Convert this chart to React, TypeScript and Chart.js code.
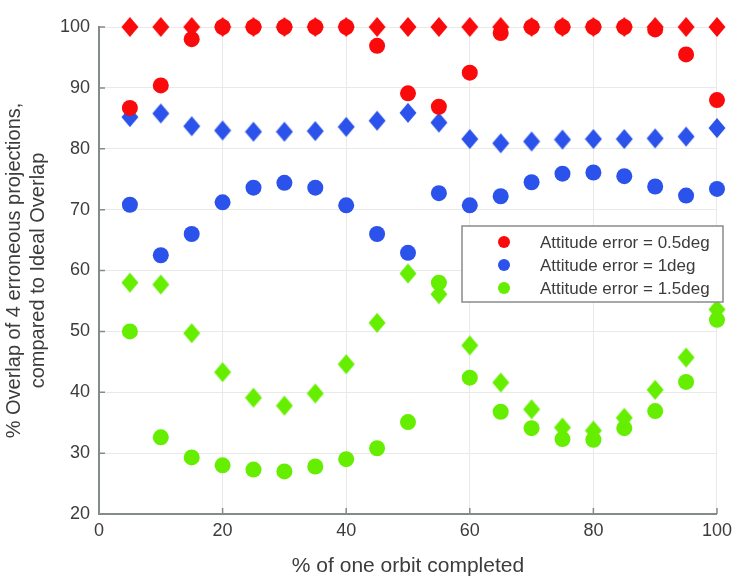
import React, { useEffect, useRef } from "react";
import { Chart, registerables } from "chart.js";

Chart.register(...registerables);

const orbitPct = [5, 10, 15, 20, 25, 30, 35, 40, 45, 50, 55, 60, 65, 70, 75, 80, 85, 90, 95, 100];
const xTicks = [0, 20, 40, 60, 80, 100];
const yTicks = [20, 30, 40, 50, 60, 70, 80, 90, 100];

// Attitude error = 0.5deg
const err05Circle = [86.7, 90.4, 98.0, 100, 100, 100, 100, 100, 96.9, 89.1, 86.9, 92.5, 99.0, 100, 100, 100, 100, 99.6, 95.5, 88.0];
const err05Diamond = [100, 100, 100, 100, 100, 100, 100, 100, 100, 100, 100, 100, 100, 100, 100, 100, 100, 100, 100, 100];
// Attitude error = 1deg
const err1Circle = [70.8, 62.5, 66.0, 71.2, 73.6, 74.4, 73.6, 70.7, 66.0, 62.9, 72.7, 70.7, 72.2, 74.5, 75.9, 76.1, 75.5, 73.8, 72.3, 73.4];
const err1Diamond = [85.2, 85.8, 83.7, 83.0, 82.8, 82.8, 82.9, 83.6, 84.6, 85.9, 84.3, 81.6, 80.9, 81.2, 81.5, 81.6, 81.6, 81.7, 82.0, 83.4];
// Attitude error = 1.5deg
const err15Circle = [50.0, 32.6, 29.3, 28.0, 27.3, 27.0, 27.8, 29.0, 30.8, 35.1, 58.0, 42.4, 36.8, 34.1, 32.3, 32.2, 34.1, 36.9, 41.7, 51.9];
const err15Diamond = [58.0, 57.7, 49.7, 43.3, 39.1, 37.8, 39.8, 44.6, 51.4, 59.5, 56.1, 47.7, 41.6, 37.2, 34.2, 33.7, 35.8, 40.4, 45.7, 53.6];

const legendLabels = ["Attitude error = 0.5deg", "Attitude error = 1deg", "Attitude error = 1.5deg"];

const RED = "#fa0a0a";
const BLUE = "#2b52ea";
const GREEN = "#66ee00";
const TEXT = "#3c3c3c";
const AXIS = "#858a8a";
const GRID = "#e9e9e9";
const FONT = "'Liberation Sans', Arial, sans-serif";

function makeDiamond(color: string): HTMLCanvasElement {
  const c = document.createElement("canvas");
  c.width = 18;
  c.height = 22;
  const ctx = c.getContext("2d")!;
  ctx.fillStyle = color;
  ctx.beginPath();
  ctx.moveTo(9, 1);
  ctx.lineTo(17.5, 11);
  ctx.lineTo(9, 21);
  ctx.lineTo(0.5, 11);
  ctx.closePath();
  ctx.fill();
  return c;
}

const toPoints = (ys: number[]) => orbitPct.map((x, i) => ({ x, y: ys[i] }));

export default function App() {
  const ref = useRef<HTMLCanvasElement | null>(null);

  useEffect(() => {
    if (!ref.current) return;

    const inwardTicks = {
      id: "inwardTicks",
      afterDraw(chart: any) {
        const ctx = chart.ctx;
        const xs = chart.scales.x;
        const ys = chart.scales.y;
        const a = chart.chartArea;
        ctx.save();
        ctx.strokeStyle = AXIS;
        ctx.lineWidth = 1.5;
        ctx.beginPath();
        xTicks.forEach((t) => {
          const px = xs.getPixelForValue(t);
          ctx.moveTo(px, a.bottom);
          ctx.lineTo(px, a.bottom - 6);
        });
        yTicks.forEach((t) => {
          const py = ys.getPixelForValue(t);
          ctx.moveTo(a.left, py);
          ctx.lineTo(a.left + 6, py);
        });
        ctx.stroke();
        ctx.restore();
      },
    };

    const insideLegend = {
      id: "insideLegend",
      afterDraw(chart: any) {
        const ctx = chart.ctx;
        const colors = [RED, BLUE, GREEN];
        const bx = 462, by = 226, bw = 261, bh = 76;
        ctx.save();
        ctx.fillStyle = "#ffffff";
        ctx.fillRect(bx, by, bw, bh);
        ctx.strokeStyle = "#8a8a8a";
        ctx.lineWidth = 1.5;
        ctx.strokeRect(bx, by, bw, bh);
        ctx.font = `17px ${FONT}`;
        ctx.textBaseline = "middle";
        ctx.textAlign = "left";
        legendLabels.forEach((lbl, i) => {
          const cy = by + 16 + i * 23;
          ctx.fillStyle = colors[i];
          ctx.beginPath();
          ctx.arc(504, cy, 6, 0, Math.PI * 2);
          ctx.fill();
          ctx.fillStyle = TEXT;
          ctx.fillText(lbl, 540, cy + 1);
        });
        ctx.restore();
      },
    };

    const ds = (data: number[], color: string, style: any, radius: number) => ({
      data: toPoints(data),
      backgroundColor: color,
      borderColor: color,
      borderWidth: 0,
      pointStyle: style,
      pointRadius: radius,
      pointHoverRadius: radius,
      showLine: false,
      clip: false,
    });

    const chart = new Chart(ref.current, {
      type: "scatter",
      data: {
        datasets: [
          ds(err05Diamond, RED, makeDiamond(RED), 10),
          ds(err05Circle, RED, "circle", 8),
          ds(err1Diamond, BLUE, makeDiamond(BLUE), 10),
          ds(err1Circle, BLUE, "circle", 8),
          ds(err15Diamond, GREEN, makeDiamond(GREEN), 10),
          ds(err15Circle, GREEN, "circle", 8),
        ],
      },
      options: {
        responsive: false,
        animation: false,
        layout: { padding: { top: 27, right: 20, left: 0, bottom: 0 } },
        plugins: {
          legend: { display: false },
          tooltip: { enabled: false },
        },
        scales: {
          x: {
            type: "linear",
            min: 0,
            max: 100,
            afterBuildTicks: (scale: any) => {
              scale.ticks = xTicks.map((v) => ({ value: v }));
            },
            afterFit: (scale: any) => {
              scale.height = 67;
            },
            ticks: {
              padding: 6,
              color: TEXT,
              font: { family: FONT, size: 18 },
              maxRotation: 0,
            },
            grid: { color: GRID, lineWidth: 1, drawTicks: false },
            border: { display: true, color: AXIS, width: 2 },
            title: {
              display: true,
              text: "% of one orbit completed",
              color: TEXT,
              font: { family: FONT, size: 21, lineHeight: 1.2 },
              padding: { top: 0, bottom: 2 },
            },
          },
          y: {
            type: "linear",
            min: 20,
            max: 100,
            afterBuildTicks: (scale: any) => {
              scale.ticks = yTicks.map((v) => ({ value: v }));
            },
            afterFit: (scale: any) => {
              scale.width = 99;
            },
            ticks: {
              padding: 9,
              color: TEXT,
              font: { family: FONT, size: 18 },
            },
            grid: { color: GRID, lineWidth: 1, drawTicks: false },
            border: { display: true, color: AXIS, width: 2 },
            title: {
              display: true,
              text: ["% Overlap of 4 erroneous projections,", "compared to Ideal Overlap"],
              color: TEXT,
              font: { family: FONT, size: 20, lineHeight: 1.2 },
              padding: { top: 2, bottom: 0 },
            },
          },
        },
      },
      plugins: [inwardTicks, insideLegend],
    } as any);

    return () => chart.destroy();
  }, []);

  return (
    <div style={{ position: "absolute", left: 0, top: 0, width: 738, height: 581, background: "#ffffff" }}>
      <canvas ref={ref} width={738} height={581} />
    </div>
  );
}
